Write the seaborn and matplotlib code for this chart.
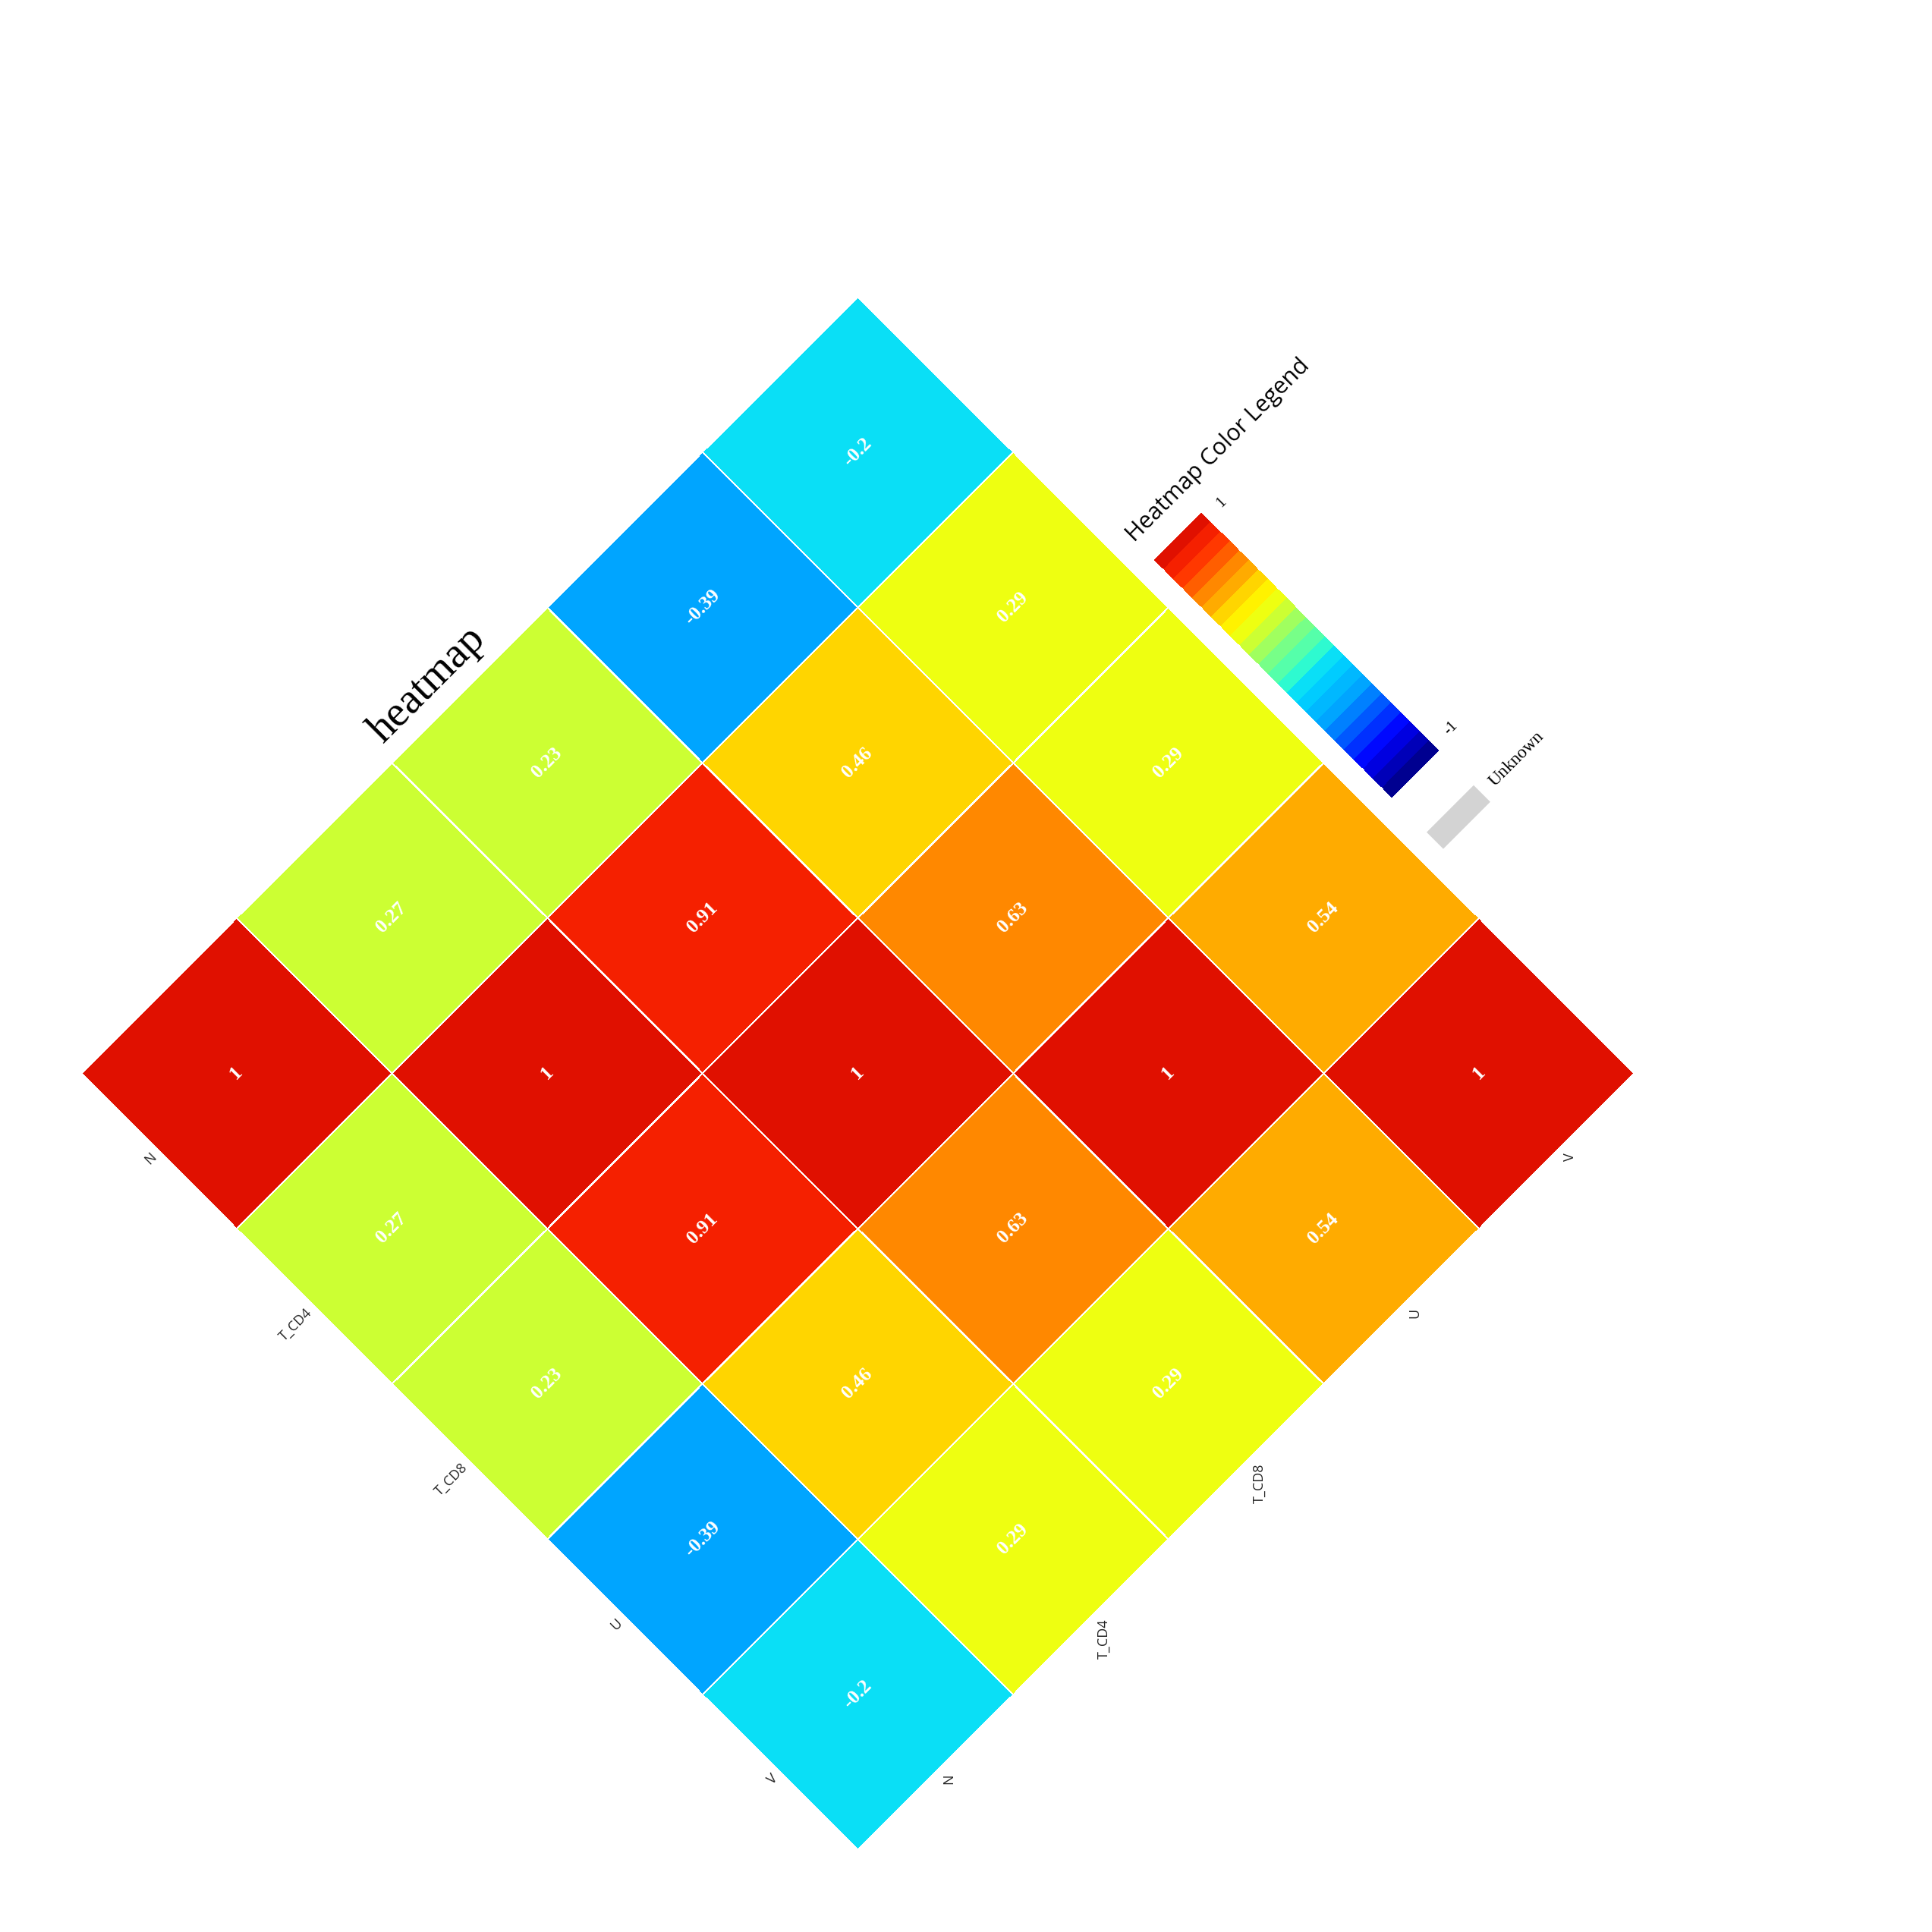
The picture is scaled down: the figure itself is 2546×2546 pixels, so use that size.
import numpy as np
import pandas as pd
import matplotlib
matplotlib.use("Agg")
import matplotlib.pyplot as plt
import seaborn as sns
from matplotlib.colors import ListedColormap
from matplotlib.transforms import Affine2D
from matplotlib.patches import Rectangle

# ---------------- data ----------------
variables = ["N", "T_CD4", "T_CD8", "U", "V"]
row_N = [1, 0.27, 0.23, -0.39, -0.2]
row_T_CD4 = [0.27, 1, 0.91, 0.46, 0.29]
row_T_CD8 = [0.23, 0.91, 1, 0.63, 0.29]
row_U = [-0.39, 0.46, 0.63, 1, 0.54]
row_V = [-0.2, 0.29, 0.29, 0.54, 1]

# discrete palette, from value 1 (top) down to -1 (bottom)
palette_top_down = [
    "#E01000", "#F52000", "#FF3800", "#FF5E00", "#FF8800",
    "#FFAB00", "#FFD500", "#FFF200", "#EEFF11", "#CCFF33",
    "#A0FF5F", "#77FF88", "#55FFAA", "#2EFAD0", "#0ADFF6",
    "#00CCFF", "#00B8FF", "#00A5FF", "#0080FF", "#0058FF",
    "#0030FF", "#0008FF", "#0000E0", "#0000B8", "#000090",
]
legend_title = "Heatmap Color Legend"
legend_max_label = "1"
legend_min_label = "-1"
unknown_label = "Unknown"
chart_title = "heatmap"

# ---------------- setup ----------------
sns.set_style("white")
plt.rcParams["font.family"] = ["Open Sans", "DejaVu Sans"]

W = H = 2546
fig = plt.figure(figsize=(W / 100, H / 100), dpi=100, facecolor="white")

CX, CY = 1130.0, 1132.0          # rotation centre (display px)
SIDE = 1447.0                     # heatmap side before rotation (px)
rot = Affine2D().rotate_deg_around(CX, CY, 45)
frame = Affine2D().translate(CX, CY) + rot   # pixel offsets in the rotated frame

cmap = ListedColormap(palette_top_down[::-1])

df = pd.DataFrame([row_N, row_T_CD4, row_T_CD8, row_U, row_V],
                  index=variables, columns=variables)

ax = fig.add_axes([(CX - SIDE / 2) / W, (CY - SIDE / 2) / H, SIDE / W, SIDE / H])
sns.heatmap(df, ax=ax, cmap=cmap, vmin=-1, vmax=1, annot=True, fmt="g",
            cbar=False, linewidths=1.0, linecolor="white", square=True,
            annot_kws=dict(color="white", fontsize=19, fontweight="bold",
                           fontfamily="Liberation Serif"))
ax.axis("off")

mesh = ax.collections[0]
mesh.set_transform(ax.transData + rot)
mesh.set_clip_on(False)
for t in ax.texts:
    t.set_transform(ax.transData + rot)
    t.set_rotation(45)
    t.set_rotation_mode("anchor")
    t.set_clip_on(False)

# row labels (lower-left edge)
for i, lab in enumerate(variables):
    fig.text(0, i + 0.5, lab,
             transform=ax.transData + Affine2D().translate(-8, 0) + rot,
             rotation=45, rotation_mode="anchor", ha="right", va="center",
             fontsize=13, color="#222222")
# column labels (lower-right edge)
for j, lab in enumerate(variables):
    fig.text(j + 0.5, len(variables), lab,
             transform=ax.transData + Affine2D().translate(10.6, -14.8) + rot,
             rotation=90, rotation_mode="anchor", ha="right", va="center",
             fontsize=13, color="#222222")

# title
fig.text(0.473, 1.027, chart_title, transform=ax.transAxes + rot,
         rotation=45, rotation_mode="anchor", ha="center", va="center",
         fontfamily="Liberation Serif", fontsize=41, color="black")

# ---------------- colour legend ----------------
n = len(palette_top_down)
levels = np.linspace(1, -1, 2 * n + 1)[1::2]
bar_left, bar_w = 754.7, 87.6
bar_bottom, bar_top = -241.0, 201.7
cax = fig.add_axes([(CX + bar_left) / W, (CY + bar_bottom) / H,
                    bar_w / W, (bar_top - bar_bottom) / H])
sns.heatmap(pd.DataFrame({"v": levels}), ax=cax, cmap=cmap, vmin=-1, vmax=1,
            cbar=False, xticklabels=False, yticklabels=False, linewidths=0)
cax.axis("off")
cm = cax.collections[0]
cm.set_transform(cax.transData + rot)
cm.set_clip_on(False)

fig.text(752, 244, legend_title, transform=frame, rotation=45,
         rotation_mode="anchor", ha="left", va="center",
         fontsize=22, color="black")
fig.text(866, bar_top, legend_max_label, transform=frame, rotation=45,
         rotation_mode="anchor", ha="left", va="top",
         fontfamily="Liberation Serif", fontsize=15, color="black")
fig.text(866, bar_bottom, legend_min_label, transform=frame, rotation=45,
         rotation_mode="anchor", ha="left", va="bottom",
         fontfamily="Liberation Serif", fontsize=15, color="black")

unk = Rectangle((bar_left, -337.0), bar_w, 31.0, transform=frame,
                facecolor="#D3D3D3", edgecolor="none")
fig.add_artist(unk)
fig.text(860, -321.7, unknown_label, transform=frame, rotation=45,
         rotation_mode="anchor", ha="left", va="center",
         fontfamily="Liberation Serif", fontsize=17, color="black")

fig.savefig("out.png", dpi=100, facecolor="white")
